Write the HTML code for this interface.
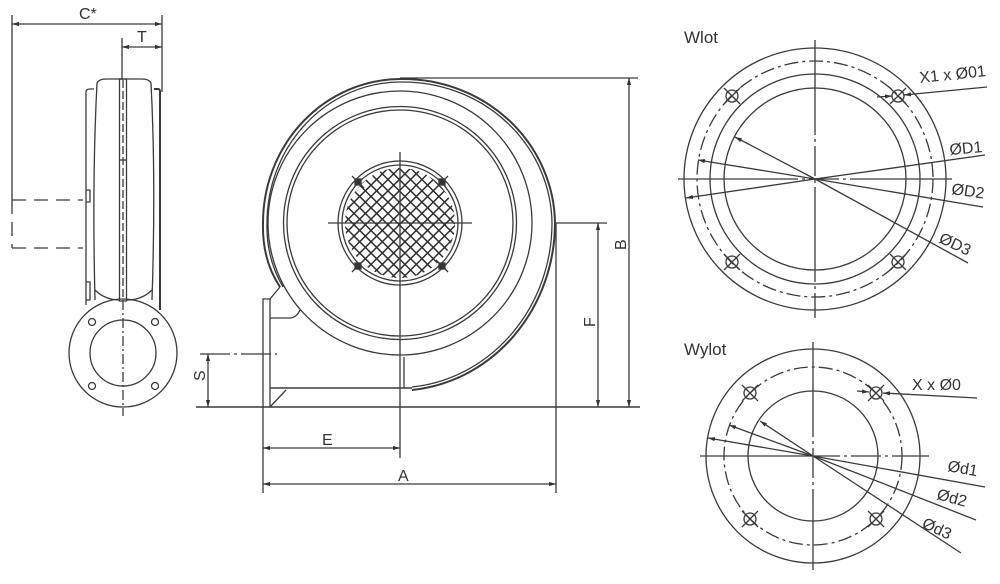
<!DOCTYPE html>
<html><head><meta charset="utf-8"><style>
html,body{margin:0;padding:0;background:#fff}
svg{display:block}
text{font-family:"Liberation Sans","DejaVu Sans",sans-serif;fill:#333}
</style></head><body>
<svg width="1000" height="584" viewBox="0 0 1000 584" xmlns="http://www.w3.org/2000/svg">
<defs>
<marker id="ar" viewBox="0 0 10 10" refX="10" refY="5" markerWidth="7" markerHeight="7" orient="auto-start-reverse" markerUnits="userSpaceOnUse"><path d="M0,2 L10,5 L0,8 z" fill="#333"/></marker>
<clipPath id="mesh"><circle cx="400" cy="223" r="55"/></clipPath>
<pattern id="grid" width="8" height="8" patternUnits="userSpaceOnUse" patternTransform="rotate(45 400 223)">
<path d="M0,0 H8 M0,0 V8" stroke="#2e2e2e" stroke-width="3" fill="none"/>
</pattern>
</defs>
<g stroke="#3a3a3a" fill="none" stroke-width="1.3">

<!-- ===== SIDE VIEW ===== -->
<line x1="12" y1="15" x2="12" y2="200"/>
<line x1="162" y1="15" x2="162" y2="92"/>
<line x1="12" y1="24" x2="162" y2="24" marker-start="url(#ar)" marker-end="url(#ar)"/>
<line x1="122" y1="38" x2="122" y2="80"/>
<line x1="122" y1="47" x2="162" y2="47" marker-start="url(#ar)" marker-end="url(#ar)"/>
<path d="M12,200 H83 M12,248 H83 M12,200 V248" stroke-dasharray="14,8"/>
<path d="M86,305 V92 Q86,89 90,89 H94"/>
<path d="M86,190 H90 V202 H86 M86,282 H90 V300 H86"/>
<path d="M154,89 H158 Q160,89 160,92 V310" stroke-width="2"/>
<path d="M95,300 Q92,180 97,83 Q99,79 106,79 H142 Q149,79 151,83 Q156,180 152,300"/>
<path d="M95,290 Q105,300 120,300 M127,300 Q142,300 152,290"/>
<rect x="119.5" y="79" width="7" height="222"/>
<line x1="123" y1="80" x2="123" y2="298" stroke-dasharray="8,3"/>
<line x1="119.5" y1="160" x2="126.5" y2="160"/>
<circle cx="123" cy="353" r="54"/>
<circle cx="123" cy="353" r="33"/>
<circle cx="92" cy="322" r="3.5"/><circle cx="155" cy="322" r="3.5"/>
<circle cx="92" cy="386" r="3.5"/><circle cx="155" cy="386" r="3.5"/>
<line x1="123" y1="300" x2="123" y2="416" stroke-dasharray="10,3,2,3"/>

<!-- ===== FRONT VIEW ===== -->
<path d="M280,287 Q262,260 263,223 A138,144 0 0 1 400,79 A152,146 0 0 1 555,223 A158,168 0 0 1 412,390" stroke-width="2"/>
<path d="M283,287 Q266,258 267,223 A134,141 0 0 1 400,82 A149,143 0 0 1 552,223 A155,165 0 0 1 412,387"/>
<circle cx="400" cy="223" r="132"/>
<circle cx="400" cy="223" r="116.5"/>
<circle cx="400" cy="223" r="113"/>
<circle cx="400" cy="223" r="62"/>
<circle cx="400" cy="223" r="58"/>
<rect x="340" y="163" width="120" height="120" fill="url(#grid)" stroke="none" clip-path="url(#mesh)"/>
<line x1="328" y1="223" x2="472" y2="223"/>
<line x1="400" y1="152" x2="400" y2="458"/>
<path d="M352,176 L364,188 M436,188 L448,176 M352,272 L364,260 M436,260 L448,272"/>
<rect x="355" y="179" width="6" height="6" fill="#333"/>
<rect x="439" y="179" width="6" height="6" fill="#333"/>
<rect x="355" y="263" width="6" height="6" fill="#333"/>
<rect x="439" y="263" width="6" height="6" fill="#333"/>
<path d="M263,407 V299 H270 V407"/>
<path d="M270,299 L280,287"/>
<path d="M270,318 H291 Q297,317 300,310"/>
<path d="M270,388 H412" stroke-width="1.6"/>
<path d="M270,407 L286,390"/>
<line x1="404" y1="357" x2="404" y2="388"/>
<line x1="200" y1="354" x2="277" y2="354" stroke-dasharray="30,4,3,4"/>
<line x1="208" y1="354" x2="208" y2="407" marker-start="url(#ar)" marker-end="url(#ar)"/>
<line x1="196" y1="407" x2="640" y2="407" stroke-width="1.6"/>
<line x1="263" y1="407" x2="263" y2="493"/>
<line x1="556" y1="223" x2="556" y2="493"/>
<line x1="263" y1="448" x2="400" y2="448" marker-start="url(#ar)" marker-end="url(#ar)"/>
<line x1="263" y1="484" x2="556" y2="484" marker-start="url(#ar)" marker-end="url(#ar)"/>
<line x1="556" y1="223" x2="607" y2="223"/>
<line x1="598" y1="223" x2="598" y2="407" marker-start="url(#ar)" marker-end="url(#ar)"/>
<line x1="400" y1="78" x2="638" y2="78"/>
<line x1="629" y1="78" x2="629" y2="407" marker-start="url(#ar)" marker-end="url(#ar)"/>

<!-- ===== WLOT ===== -->
<circle cx="815" cy="179" r="131"/>
<circle cx="815" cy="179" r="118" stroke-dasharray="14,4,3,4"/>
<circle cx="815" cy="179" r="105"/>
<circle cx="815" cy="179" r="91"/>
<line x1="678" y1="179" x2="952" y2="179" stroke-dasharray="120,4,3,4,30,4,3,4"/>
<line x1="815" y1="40" x2="815" y2="318" stroke-dasharray="95,4,3,4,30,4,3,4"/>
<circle cx="732" cy="96" r="6"/><circle cx="898" cy="96" r="6"/>
<circle cx="732" cy="262" r="6"/><circle cx="898" cy="262" r="6"/>
<path d="M724,88 L740,104 M724,104 L740,88 M890,88 L906,104 M890,104 L906,88 M724,254 L740,270 M724,270 L740,254 M890,254 L906,270 M890,270 L906,254"/>
<line x1="815" y1="179" x2="735" y2="137" marker-end="url(#ar)"/>
<line x1="815" y1="179" x2="698" y2="160" marker-end="url(#ar)"/>
<line x1="815" y1="179" x2="686" y2="198" marker-end="url(#ar)"/>
<line x1="815" y1="179" x2="985" y2="155"/>
<line x1="815" y1="179" x2="983" y2="207"/>
<line x1="815" y1="179" x2="968" y2="263"/>
<line x1="877" y1="97" x2="892" y2="96" marker-end="url(#ar)"/>
<line x1="987" y1="87" x2="904" y2="95" marker-end="url(#ar)"/>

<!-- ===== WYLOT ===== -->
<circle cx="813" cy="456" r="107"/>
<circle cx="813" cy="456" r="89" stroke-dasharray="14,4,3,4"/>
<circle cx="813" cy="456" r="65"/>
<line x1="700" y1="456" x2="929" y2="456" stroke-dasharray="140,4,3,4,30,4,3,4"/>
<line x1="813" y1="342" x2="813" y2="570" stroke-dasharray="95,4,3,4,30,4,3,4"/>
<circle cx="750" cy="393" r="6"/><circle cx="876" cy="393" r="6"/>
<circle cx="750" cy="519" r="6"/><circle cx="876" cy="519" r="6"/>
<path d="M742,385 L758,401 M742,401 L758,385 M868,385 L884,401 M868,401 L884,385 M742,511 L758,527 M742,527 L758,511 M868,511 L884,527 M868,527 L884,511"/>
<line x1="813" y1="456" x2="708" y2="438" marker-end="url(#ar)"/>
<line x1="813" y1="456" x2="729" y2="425" marker-end="url(#ar)"/>
<line x1="813" y1="456" x2="760" y2="421" marker-end="url(#ar)"/>
<line x1="813" y1="456" x2="985" y2="487"/>
<line x1="813" y1="456" x2="976" y2="520"/>
<line x1="813" y1="456" x2="961" y2="553"/>
<line x1="857" y1="391" x2="869" y2="392" marker-end="url(#ar)"/>
<line x1="977" y1="398" x2="883" y2="393" marker-end="url(#ar)"/>
</g>

<g font-size="16">
<text x="79" y="19">C*</text>
<text x="137" y="42">T</text>
<text x="322" y="445">E</text>
<text x="398" y="481">A</text>
<text transform="translate(205,381) rotate(-90)">S</text>
<text transform="translate(595,327) rotate(-90)">F</text>
<text transform="translate(626,250) rotate(-90)">B</text>
<text x="684" y="43" font-size="17">Wlot</text>
<text x="684" y="355" font-size="17">Wylot</text>
<text transform="translate(920,83) rotate(-6)">X1 x Ø01</text>
<text transform="translate(950,155) rotate(-5)">ØD1</text>
<text transform="translate(951,194) rotate(8)">ØD2</text>
<text transform="translate(938,242) rotate(25)">ØD3</text>
<text x="912" y="390">X x Ø0</text>
<text transform="translate(947,471) rotate(10)">Ød1</text>
<text transform="translate(936,499) rotate(15)">Ød2</text>
<text transform="translate(921,527) rotate(25)">Ød3</text>
</g>
</svg>
</body></html>
